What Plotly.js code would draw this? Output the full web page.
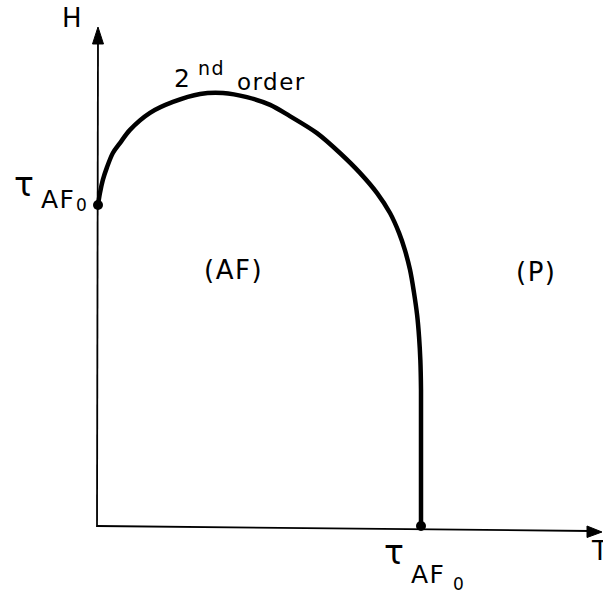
<!DOCTYPE html>
<html>
<head>
<meta charset="utf-8">
<script src="https://cdn.plot.ly/plotly-3.0.1.min.js"></script>
<style>
  html, body { margin: 0; padding: 0; background: #fff; }
  #chart { width: 603px; height: 600px; }
  .annotation-text { letter-spacing: 1.5px; }
</style>
</head>
<body>
<div id="chart"></div>
<script>
// Phase boundary H(T) between the antiferromagnetic (AF) and paramagnetic (P) phases,
// in reduced units: T / tau_AF0 and H / H(T=0).
const boundaryT = [0, 0.006, 0.015, 0.028, 0.046, 0.068, 0.099, 0.161, 0.232, 0.316, 0.387,
                   0.461, 0.533, 0.594, 0.678, 0.749, 0.811, 0.864, 0.904, 0.932, 0.950,
                   0.966, 0.978, 0.988, 0.994, 0.998, 1.0, 1.0];
const boundaryH = [1.000, 1.037, 1.078, 1.118, 1.162, 1.193, 1.234, 1.287, 1.321, 1.346, 1.349,
                   1.336, 1.312, 1.277, 1.224, 1.162, 1.100, 1.037, 0.975, 0.913, 0.860,
                   0.798, 0.729, 0.657, 0.589, 0.517, 0.424, 0.000];

// End points of the transition line (marked with dots)
const endT = [0, 1];
const endH = [1, 0];

// Text labels
const axisLabelX = 'T';
const axisLabelY = 'H';
const regionLabels = ['(AF)', '(P)'];
const orderLabel = ['2', 'nd', 'order'];
const tauSymbol = 'τ';
const tauSub = 'AF';
const tauSubSub = '0';

const W = 603, H = 600;
// Pixel geometry of the drawing (origin and unit lengths)
const X0 = 98, Y0 = 526, UX = 323, UY = 321;
const xRange = [-X0 / UX, (W - X0) / UX];
const yRange = [-(H - Y0) / UY, Y0 / UY];

const px = x => x / W;
const py = y => 1 - y / H;

const FONT = 'DejaVu Sans, sans-serif';

function label(text, cx, cy, size, anchor) {
  return {
    text: text, xref: 'paper', yref: 'paper',
    x: px(cx), y: py(cy), xanchor: anchor || 'center', yanchor: 'middle',
    showarrow: false, font: { family: FONT, size: size, color: '#000' }
  };
}

// path in pixel space -> path in paper space
function pathPx(points, close) {
  const segs = points.map((p, i) => (i ? 'L' : 'M') + px(p[0]).toFixed(5) + ',' + py(p[1]).toFixed(5));
  return segs.join(' ') + (close ? ' Z' : '');
}

const shapes = [
  // H axis with arrowhead
  { type: 'path', xref: 'paper', yref: 'paper', path: pathPx([[97, 527], [98, 40]]),
    line: { color: '#000', width: 1.8 } },
  { type: 'path', xref: 'paper', yref: 'paper', path: pathPx([[98, 27], [92.5, 44], [103.5, 44]], true),
    line: { color: '#000', width: 1 }, fillcolor: '#000' },
  // T axis with arrowhead
  { type: 'path', xref: 'paper', yref: 'paper', path: pathPx([[97, 526], [590, 531]]),
    line: { color: '#000', width: 1.8 } },
  { type: 'path', xref: 'paper', yref: 'paper', path: pathPx([[602, 532], [587, 526], [587, 537.5]], true),
    line: { color: '#000', width: 1 }, fillcolor: '#000' }
];

const traces = [
  {
    x: boundaryT, y: boundaryH, type: 'scatter', mode: 'lines',
    line: { color: '#000', width: 4.5, shape: 'spline', smoothing: 0.9 },
    hoverinfo: 'skip', showlegend: false
  },
  {
    x: endT, y: endH, type: 'scatter', mode: 'markers',
    marker: { color: '#000', size: 10 },
    hoverinfo: 'skip', showlegend: false, cliponaxis: false
  }
];

const annotations = [
  label(axisLabelY, 72, 18, 26),
  label(axisLabelX, 600, 551, 26),
  label(regionLabels[0], 233, 270, 26),
  label(regionLabels[1], 536, 272, 26),
  label(orderLabel[0], 182, 78, 25),
  label(orderLabel[1], 211, 68, 19),
  label(orderLabel[2], 271, 82, 23),
  // tau_AF0 on the H axis
  label(tauSymbol, 24, 184, 33),
  label(tauSub, 58, 199, 25),
  label(tauSubSub, 82, 205, 17),
  // tau_AF0 on the T axis
  label(tauSymbol, 394, 552, 33),
  label(tauSub, 428, 574, 25),
  label(tauSubSub, 459, 584, 17)
];

const layout = {
  width: W, height: H,
  margin: { l: 0, r: 0, t: 0, b: 0 },
  paper_bgcolor: '#fff', plot_bgcolor: '#fff',
  xaxis: { range: xRange, visible: false, fixedrange: true },
  yaxis: { range: yRange, visible: false, fixedrange: true },
  shapes: shapes,
  annotations: annotations,
  showlegend: false
};

Plotly.newPlot('chart', traces, layout, { staticPlot: true, displayModeBar: false });
</script>
</body>
</html>
